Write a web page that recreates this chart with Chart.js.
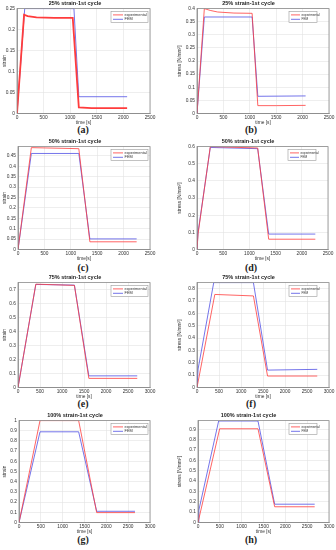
<!DOCTYPE html>
<html>
<head>
<meta charset="utf-8">
<script src="https://cdn.jsdelivr.net/npm/chart.js@4.4.1/dist/chart.umd.min.js"></script>
<style>
  body { margin: 0; background: #fff; width: 336px; height: 550px; position: relative; overflow: hidden; }
  canvas { position: absolute; }
  .cap { position: absolute; width: 40px; text-align: center; font: bold 10px "Liberation Serif", "DejaVu Serif", serif; color: #222; }
</style>
</head>
<body>
<div class="cap" style="left:63px;top:124px">(a)</div>
<div class="cap" style="left:231px;top:124px">(b)</div>
<div class="cap" style="left:63px;top:262px">(c)</div>
<div class="cap" style="left:231px;top:262px">(d)</div>
<div class="cap" style="left:63px;top:398px">(e)</div>
<div class="cap" style="left:231px;top:398px">(f)</div>
<div class="cap" style="left:63px;top:534px">(g)</div>
<div class="cap" style="left:231px;top:534px">(h)</div>
<script>
// (a) 25% strain
const aExpT = [0, 133, 200, 366, 700, 1048, 1162, 1400, 1700, 2070];
const aExpY = [0, 0.2355, 0.232, 0.229, 0.228, 0.228, 0.0145, 0.013, 0.013, 0.013];
const aFemT = [0, 145, 1070, 1162, 2070];
const aFemY = [0, 0.25, 0.25, 0.040, 0.040];
// (b) 25% stress
const bExpT = [0, 139, 250, 392, 700, 1044, 1152, 1500, 2057];
const bExpY = [0, 0.4, 0.393, 0.387, 0.383, 0.382, 0.03, 0.03, 0.031];
const bFemT = [0, 139, 1044, 1152, 2057];
const bFemY = [0, 0.368, 0.368, 0.0656, 0.067];
// (c) 50% strain
const cExpT = [0, 253, 1152, 1361, 2247];
const cExpY = [0, 0.49, 0.485, 0.037, 0.037];
const cFemT = [0, 253, 1152, 1361, 2247];
const cFemY = [0, 0.462, 0.462, 0.051, 0.051];
// (d) 50% stress
const dExpT = [0, 20, 254, 1158, 1368, 2258];
const dExpY = [0, 0.09, 0.6, 0.592, 0.06, 0.06];
const dFemT = [0, 20, 254, 1158, 1368, 2258];
const dFemY = [0, 0.1, 0.595, 0.588, 0.09, 0.09];
// (e) 75% strain
const eExpT = [0, 405, 1282, 1610, 2710];
const eExpY = [0, 0.737, 0.728, 0.065, 0.065];
const eFemT = [0, 405, 1282, 1610, 2710];
const eFemY = [0, 0.735, 0.73, 0.083, 0.083];
// (f) 75% stress
const fExpT = [0, 405, 1282, 1603, 2733];
const fExpY = [0, 0.754, 0.742, 0.093, 0.093];
const fFemT = [0, 25, 380, 1282, 1603, 2733];
const fFemY = [0, 0.15, 0.85, 0.85, 0.141, 0.147];
// (g) 100% strain
const gExpT = [0, 481, 1366, 1779, 2656];
const gExpY = [0, 1.0, 1.0, 0.097, 0.097];
const gFemT = [0, 481, 1366, 1779, 2656];
const gFemY = [0, 0.89, 0.89, 0.11, 0.11];
// (h) 100% stress
const hExpT = [0, 496, 1374, 1756, 2672];
const hExpY = [0, 0.906, 0.906, 0.152, 0.152];
const hFemT = [0, 20, 473, 1374, 1756, 2672];
const hFemY = [0, 0.12, 0.981, 0.981, 0.177, 0.177];

const seriesNames = ["experimental", "FEM"];
const RED = "#ff3c3c";
const BLUE = "#5050e4";
const FONT = '"Liberation Sans", Arial, sans-serif';
const STRESS = "stress [N/mm\u00b2]";

const panels = [
  { title: "25% strain-1st cycle", yTitle: "strain", xTitle: "time [s]", xMax: 2500, yMax: 0.25, yStep: 0.05,
    exp: [aExpT, aExpY], fem: [aFemT, aFemY], rect: [17, 150, 9, 113], expWidth: 1.8 },
  { title: "25% strain-1st cycle", yTitle: STRESS, xTitle: "time [s]", xMax: 2500, yMax: 0.4, yStep: 0.05,
    exp: [bExpT, bExpY], fem: [bFemT, bFemY], rect: [197, 329, 9, 113] },
  { title: "50% strain-1st cycle", yTitle: "strain", xTitle: "time[s]", xMax: 2500, yMax: 0.495, yStep: 0.05,
    exp: [cExpT, cExpY], fem: [cFemT, cFemY], rect: [18, 150, 147, 249] },
  { title: "50% strain-1st cycle", yTitle: STRESS, xTitle: "time [s]", xMax: 2500, yMax: 0.6, yStep: 0.1,
    exp: [dExpT, dExpY], fem: [dFemT, dFemY], rect: [197, 328, 147, 249] },
  { title: "75% strain-1st cycle", yTitle: "strain", xTitle: "time [s]", xMax: 3000, yMax: 0.748, yStep: 0.1,
    exp: [eExpT, eExpY], fem: [eFemT, eFemY], rect: [18, 150, 283, 387] },
  { title: "75% strain-1st cycle", yTitle: STRESS, xTitle: "time [s]", xMax: 3000, yMax: 0.85, yStep: 0.1,
    exp: [fExpT, fExpY], fem: [fFemT, fFemY], rect: [197, 329, 283, 387] },
  { title: "100% strain-1st cycle", yTitle: "strain", xTitle: "time [s]", xMax: 3000, yMax: 1, yStep: 0.1,
    exp: [gExpT, gExpY], fem: [gFemT, gFemY], rect: [19, 150, 421, 522] },
  { title: "100% strain-1st cycle", yTitle: STRESS, xTitle: "time [s]", xMax: 3000, yMax: 0.985, yStep: 0.1,
    exp: [hExpT, hExpY], fem: [hFemT, hFemY], rect: [198, 329, 421, 522] }
];

function pts(t, y) {
  return t.map((v, i) => ({ x: v, y: y[i] }));
}

// box around the plot + small legend in the top right corner
const framePlugin = {
  id: "frame",
  afterDraw(chart) {
    const { ctx, chartArea: a } = chart;
    const o = chart.options.plugins.frame;
    ctx.save();
    ctx.strokeStyle = "#8c8c8c";
    ctx.lineWidth = 0.8;
    ctx.strokeRect(a.left, a.top, a.right - a.left, a.bottom - a.top);

    const w = o.legW, h = 11;
    const x = a.right - o.legRight - w, y = a.top + 3;
    ctx.fillStyle = "#fff";
    ctx.fillRect(x, y, w, h);
    ctx.strokeStyle = "#9a9a9a";
    ctx.lineWidth = 0.6;
    ctx.strokeRect(x, y, w, h);
    ctx.font = o.legFont + "px " + FONT;
    ctx.textBaseline = "middle";
    [RED, BLUE].forEach((c, i) => {
      const yy = y + 3.3 + i * 4.4;
      ctx.strokeStyle = c;
      ctx.lineWidth = 0.8;
      ctx.beginPath();
      ctx.moveTo(x + 2, yy);
      ctx.lineTo(x + o.lineLen, yy);
      ctx.stroke();
      ctx.fillStyle = "#333";
      ctx.fillText(seriesNames[i], x + o.lineLen + 1.5, yy);
    });
    ctx.restore();
  }
};

panels.forEach(p => {
  const [L, R, T, B] = p.rect;
  const x0 = L < 168 ? 0 : 168;
  const leftCol = x0 === 0;
  const top = T - 11;
  const xAxisH = 12.5;
  const cv = document.createElement("canvas");
  cv.width = 168;
  cv.height = Math.round(B - top + xAxisH);
  cv.style.left = x0 + "px";
  cv.style.top = top + "px";
  document.body.appendChild(cv);

  const gridOpts = { color: "#e2e2e2", lineWidth: 0.6, drawTicks: false };
  const borderOpts = { display: true, color: "#8c8c8c", width: 0.8 };
  const tickFont = { size: 4.8, family: FONT };

  new Chart(cv, {
    type: "line",
    data: {
      datasets: [
        { label: seriesNames[0], data: pts(p.exp[0], p.exp[1]), borderColor: RED,
          borderWidth: p.expWidth || 0.8, pointRadius: 0, tension: 0 },
        { label: seriesNames[1], data: pts(p.fem[0], p.fem[1]), borderColor: BLUE,
          borderWidth: 0.8, pointRadius: 0, tension: 0 }
      ]
    },
    options: {
      responsive: false,
      animation: false,
      devicePixelRatio: 1,
      layout: { padding: { left: 0, right: x0 + 168 - R, top: 0, bottom: 0 } },
      plugins: {
        legend: { display: false },
        tooltip: { enabled: false },
        title: { display: true, text: p.title, color: "#222",
          font: { size: 5.5, weight: "bold", family: FONT }, padding: { top: 2, bottom: 2 } },
        frame: leftCol ? { legW: 37, legRight: 2, legFont: 3.9, lineLen: 12 }
                       : { legW: 28, legRight: 12, legFont: 3.2, lineLen: 11 }
      },
      scales: {
        x: {
          type: "linear", min: 0, max: p.xMax,
          grid: gridOpts, border: borderOpts,
          ticks: { stepSize: 500, font: tickFont, color: "#333", padding: 1.5, maxRotation: 0,
            autoSkip: false, callback: v => String(v) },
          title: { display: true, text: p.xTitle, color: "#333", font: { size: 4.8, family: FONT },
            padding: { top: 0, bottom: 0 } },
          afterFit: s => { s.height = xAxisH; }
        },
        y: {
          min: 0, max: p.yMax,
          grid: gridOpts, border: borderOpts,
          ticks: { stepSize: p.yStep, includeBounds: false, font: tickFont, color: "#333", padding: 2,
            autoSkip: false, callback: v => String(+v.toFixed(2)) },
          title: { display: true, text: p.yTitle, color: "#333", font: { size: 4.8, family: FONT },
            padding: { top: leftCol ? 2 : 9, bottom: 0 } },
          afterFit: s => { s.width = L - x0; }
        }
      }
    },
    plugins: [framePlugin]
  });
});
</script>
</body>
</html>
